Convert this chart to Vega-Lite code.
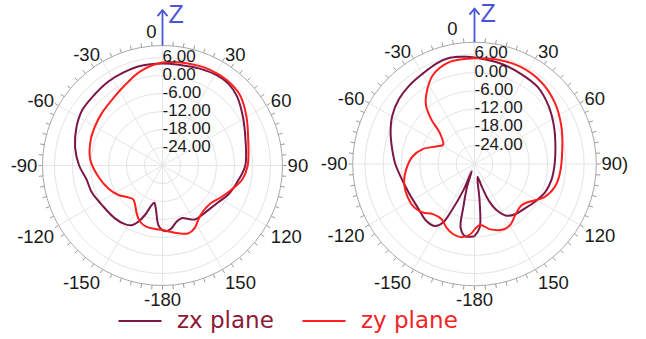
{
  "$schema": "https://vega.github.io/schema/vega-lite/v6.json",
  "width": 646,
  "height": 339,
  "autosize": "none",
  "padding": 0,
  "background": "white",
  "config": {"view": {"stroke": null}},
  "datasets": {
    "curves": [
      {"p":"L","s":"zx plane","a":-180,"g":-8.3},{"p":"L","s":"zx plane","a":-176,"g":-10.1},{"p":"L","s":"zx plane","a":-171.7,"g":-15.0},{"p":"L","s":"zx plane","a":-167.6,"g":-17.3},{"p":"L","s":"zx plane","a":-164.7,"g":-16.3},{"p":"L","s":"zx plane","a":-160.5,"g":-12.5},{"p":"L","s":"zx plane","a":-156.7,"g":-9.6},{"p":"L","s":"zx plane","a":-152.7,"g":-7.6},{"p":"L","s":"zx plane","a":-147.3,"g":-6.8},{"p":"L","s":"zx plane","a":-138,"g":-6.3},{"p":"L","s":"zx plane","a":-123,"g":-5.9},{"p":"L","s":"zx plane","a":-111,"g":-4.8},{"p":"L","s":"zx plane","a":-100,"g":-4.2},{"p":"L","s":"zx plane","a":-90,"g":-2.2},{"p":"L","s":"zx plane","a":-78,"g":-0.2},{"p":"L","s":"zx plane","a":-66,"g":1.4},{"p":"L","s":"zx plane","a":-55.5,"g":2.5},{"p":"L","s":"zx plane","a":-45,"g":2.7},{"p":"L","s":"zx plane","a":-33,"g":3.3},{"p":"L","s":"zx plane","a":-23,"g":3.6},{"p":"L","s":"zx plane","a":-12.7,"g":4.0},{"p":"L","s":"zx plane","a":0,"g":4.0},{"p":"L","s":"zx plane","a":10,"g":4.0},{"p":"L","s":"zx plane","a":21,"g":4.6},{"p":"L","s":"zx plane","a":31,"g":5.1},{"p":"L","s":"zx plane","a":39,"g":5.0},{"p":"L","s":"zx plane","a":47,"g":3.9},{"p":"L","s":"zx plane","a":58,"g":1.5},{"p":"L","s":"zx plane","a":72.5,"g":-1.0},{"p":"L","s":"zx plane","a":90,"g":-2.4},{"p":"L","s":"zx plane","a":102,"g":-4.4},{"p":"L","s":"zx plane","a":113.5,"g":-6.0},{"p":"L","s":"zx plane","a":123.7,"g":-7.8},{"p":"L","s":"zx plane","a":134,"g":-8.7},{"p":"L","s":"zx plane","a":144,"g":-8.9},{"p":"L","s":"zx plane","a":149,"g":-9.0},{"p":"L","s":"zx plane","a":153,"g":-9.9},{"p":"L","s":"zx plane","a":160,"g":-11.3},{"p":"L","s":"zx plane","a":166,"g":-10.7},{"p":"L","s":"zx plane","a":172,"g":-8.8},{"p":"L","s":"zx plane","a":176,"g":-8.1},{"p":"L","s":"zx plane","a":180,"g":-8.3},

      {"p":"L","s":"zy plane","a":-180,"g":-8.6},{"p":"L","s":"zy plane","a":-173.3,"g":-8.7},{"p":"L","s":"zy plane","a":-165.5,"g":-8.9},{"p":"L","s":"zy plane","a":-158.2,"g":-9.8},{"p":"L","s":"zy plane","a":-151.6,"g":-11.9},{"p":"L","s":"zy plane","a":-145.2,"g":-14.0},{"p":"L","s":"zy plane","a":-139.2,"g":-15.1},{"p":"L","s":"zy plane","a":-133,"g":-14.4},{"p":"L","s":"zy plane","a":-123.7,"g":-12.3},{"p":"L","s":"zy plane","a":-112.9,"g":-10.4},{"p":"L","s":"zy plane","a":-99.9,"g":-8.3},{"p":"L","s":"zy plane","a":-85,"g":-5.8},{"p":"L","s":"zy plane","a":-70.5,"g":-4.6},{"p":"L","s":"zy plane","a":-60,"g":-4.0},{"p":"L","s":"zy plane","a":-49.4,"g":-3.3},{"p":"L","s":"zy plane","a":-37.8,"g":-2.4},{"p":"L","s":"zy plane","a":-26.4,"g":-0.7},{"p":"L","s":"zy plane","a":-13.5,"g":2.2},{"p":"L","s":"zy plane","a":0,"g":4.3},{"p":"L","s":"zy plane","a":13.3,"g":5.0},{"p":"L","s":"zy plane","a":26.4,"g":5.6},{"p":"L","s":"zy plane","a":36.9,"g":5.6},{"p":"L","s":"zy plane","a":47.7,"g":4.9},{"p":"L","s":"zy plane","a":59.7,"g":2.4},{"p":"L","s":"zy plane","a":73.5,"g":-0.2},{"p":"L","s":"zy plane","a":90,"g":-1.6},{"p":"L","s":"zy plane","a":100,"g":-3.0},{"p":"L","s":"zy plane","a":107,"g":-5.0},{"p":"L","s":"zy plane","a":118.5,"g":-7.8},{"p":"L","s":"zy plane","a":128.5,"g":-9.6},{"p":"L","s":"zy plane","a":140.7,"g":-9.4},{"p":"L","s":"zy plane","a":146.7,"g":-8.3},{"p":"L","s":"zy plane","a":152.6,"g":-6.6},{"p":"L","s":"zy plane","a":159.2,"g":-5.8},{"p":"L","s":"zy plane","a":165.5,"g":-6.6},{"p":"L","s":"zy plane","a":173.5,"g":-7.8},{"p":"L","s":"zy plane","a":180,"g":-8.6},

      {"p":"R","s":"zx plane","a":-180,"g":-6.3},{"p":"R","s":"zx plane","a":-172.5,"g":-6.1},{"p":"R","s":"zx plane","a":-167.7,"g":-8.6},{"p":"R","s":"zx plane","a":-165.5,"g":-15.3},{"p":"R","s":"zx plane","a":-162,"g":-22},{"p":"R","s":"zx plane","a":-159,"g":-27.5},{"p":"R","s":"zx plane","a":-157,"g":-20.6},{"p":"R","s":"zx plane","a":-153.8,"g":-12.9},{"p":"R","s":"zx plane","a":-151.7,"g":-8.2},{"p":"R","s":"zx plane","a":-147.2,"g":-5.8},{"p":"R","s":"zx plane","a":-139.6,"g":-5.5},{"p":"R","s":"zx plane","a":-127.3,"g":-6.5},{"p":"R","s":"zx plane","a":-116,"g":-6.5},{"p":"R","s":"zx plane","a":-108.5,"g":-6.2},{"p":"R","s":"zx plane","a":-102.7,"g":-5.7},{"p":"R","s":"zx plane","a":-90,"g":-4.0},{"p":"R","s":"zx plane","a":-80.2,"g":-2.6},{"p":"R","s":"zx plane","a":-69.6,"g":-0.6},{"p":"R","s":"zx plane","a":-59.7,"g":1.3},{"p":"R","s":"zx plane","a":-49.3,"g":2.7},{"p":"R","s":"zx plane","a":-39.8,"g":3.5},{"p":"R","s":"zx plane","a":-29.8,"g":4.2},{"p":"R","s":"zx plane","a":-20.8,"g":5.3},{"p":"R","s":"zx plane","a":-13.1,"g":5.8},{"p":"R","s":"zx plane","a":-4.1,"g":5.3},{"p":"R","s":"zx plane","a":3.1,"g":4.7},{"p":"R","s":"zx plane","a":14.5,"g":4.1},{"p":"R","s":"zx plane","a":27.2,"g":3.3},{"p":"R","s":"zx plane","a":39.5,"g":2.7},{"p":"R","s":"zx plane","a":51.9,"g":0.9},{"p":"R","s":"zx plane","a":64.5,"g":-1.1},{"p":"R","s":"zx plane","a":77.7,"g":-2.8},{"p":"R","s":"zx plane","a":90.5,"g":-3.7},{"p":"R","s":"zx plane","a":101.9,"g":-4.2},{"p":"R","s":"zx plane","a":111.7,"g":-5.0},{"p":"R","s":"zx plane","a":122.6,"g":-6.7},{"p":"R","s":"zx plane","a":132.5,"g":-8.1},{"p":"R","s":"zx plane","a":140.5,"g":-8.7},{"p":"R","s":"zx plane","a":148.2,"g":-10},{"p":"R","s":"zx plane","a":154.1,"g":-13},{"p":"R","s":"zx plane","a":158.7,"g":-17.1},{"p":"R","s":"zx plane","a":162.1,"g":-22.1},{"p":"R","s":"zx plane","a":166.7,"g":-25.7},{"p":"R","s":"zx plane","a":172.1,"g":-17.9},{"p":"R","s":"zx plane","a":175.4,"g":-9},{"p":"R","s":"zx plane","a":180,"g":-6.3},

      {"p":"R","s":"zy plane","a":-180,"g":-8.5},{"p":"R","s":"zy plane","a":-176.4,"g":-6.8},{"p":"R","s":"zy plane","a":-170,"g":-5.6},{"p":"R","s":"zy plane","a":-163.2,"g":-5.9},{"p":"R","s":"zy plane","a":-156.2,"g":-7.2},{"p":"R","s":"zy plane","a":-149,"g":-8.9},{"p":"R","s":"zy plane","a":-140.3,"g":-8.6},{"p":"R","s":"zy plane","a":-133.1,"g":-6.7},{"p":"R","s":"zy plane","a":-125.7,"g":-5.6},{"p":"R","s":"zy plane","a":-116.3,"g":-5.5},{"p":"R","s":"zy plane","a":-105.6,"g":-6.0},{"p":"R","s":"zy plane","a":-95.1,"g":-7.4},{"p":"R","s":"zy plane","a":-83.1,"g":-9.5},{"p":"R","s":"zy plane","a":-73.9,"g":-12.3},{"p":"R","s":"zy plane","a":-65.3,"g":-16.2},{"p":"R","s":"zy plane","a":-58.5,"g":-17.9},{"p":"R","s":"zy plane","a":-48.2,"g":-14.7},{"p":"R","s":"zy plane","a":-44.1,"g":-9.6},{"p":"R","s":"zy plane","a":-39.7,"g":-5.1},{"p":"R","s":"zy plane","a":-35.3,"g":-2.5},{"p":"R","s":"zy plane","a":-25.2,"g":2.2},{"p":"R","s":"zy plane","a":-13.6,"g":4.5},{"p":"R","s":"zy plane","a":-0.6,"g":4.7},{"p":"R","s":"zy plane","a":12.2,"g":5.1},{"p":"R","s":"zy plane","a":25.5,"g":5.3},{"p":"R","s":"zy plane","a":39.1,"g":4.7},{"p":"R","s":"zy plane","a":52.5,"g":3.2},{"p":"R","s":"zy plane","a":66.5,"g":1.1},{"p":"R","s":"zy plane","a":80.8,"g":-0.8},{"p":"R","s":"zy plane","a":96.3,"g":-1.8},{"p":"R","s":"zy plane","a":106,"g":-2.6},{"p":"R","s":"zy plane","a":115.3,"g":-4.6},{"p":"R","s":"zy plane","a":125.7,"g":-8.5},{"p":"R","s":"zy plane","a":131.9,"g":-9.5},{"p":"R","s":"zy plane","a":140.5,"g":-8.7},{"p":"R","s":"zy plane","a":149,"g":-6.9},{"p":"R","s":"zy plane","a":155.7,"g":-6.5},{"p":"R","s":"zy plane","a":166.3,"g":-7.9},{"p":"R","s":"zy plane","a":174.6,"g":-9.9},{"p":"R","s":"zy plane","a":180,"g":-8.5}
    ],
    "rings": [
      {"p":"L","g":-24},{"p":"L","g":-18},{"p":"L","g":-12},{"p":"L","g":-6},{"p":"L","g":0},{"p":"L","g":6},{"p":"L","g":10},
      {"p":"R","g":-24},{"p":"R","g":-18},{"p":"R","g":-12},{"p":"R","g":-6},{"p":"R","g":0},{"p":"R","g":6},{"p":"R","g":10}
    ],
    "ang": [
      {"a":-175},{"a":-170},{"a":-165},{"a":-160},{"a":-155},{"a":-150},{"a":-145},{"a":-140},{"a":-135},{"a":-130},{"a":-125},{"a":-120},{"a":-115},{"a":-110},{"a":-105},{"a":-100},{"a":-95},{"a":-90},{"a":-85},{"a":-80},{"a":-75},{"a":-70},{"a":-65},{"a":-60},{"a":-55},{"a":-50},{"a":-45},{"a":-40},{"a":-35},{"a":-30},{"a":-25},{"a":-20},{"a":-15},{"a":-10},{"a":-5},{"a":0},{"a":5},{"a":10},{"a":15},{"a":20},{"a":25},{"a":30},{"a":35},{"a":40},{"a":45},{"a":50},{"a":55},{"a":60},{"a":65},{"a":70},{"a":75},{"a":80},{"a":85},{"a":90},{"a":95},{"a":100},{"a":105},{"a":110},{"a":115},{"a":120},{"a":125},{"a":130},{"a":135},{"a":140},{"a":145},{"a":150},{"a":155},{"a":160},{"a":165},{"a":170},{"a":175},{"a":180}
    ],
    "alab": [
      {"p":"L","a":0,"t":"0"},{"p":"L","a":30,"t":"30"},{"p":"L","a":60,"t":"60"},{"p":"L","a":90,"t":"90"},{"p":"L","a":120,"t":"120"},{"p":"L","a":150,"t":"150"},{"p":"L","a":180,"t":"-180"},{"p":"L","a":-150,"t":"-150"},{"p":"L","a":-120,"t":"-120"},{"p":"L","a":-90,"t":"-90"},{"p":"L","a":-60,"t":"-60"},{"p":"L","a":-30,"t":"-30"},
      {"p":"R","a":0,"t":"0"},{"p":"R","a":30,"t":"30"},{"p":"R","a":60,"t":"60"},{"p":"R","a":90,"t":"90)"},{"p":"R","a":120,"t":"120"},{"p":"R","a":150,"t":"150"},{"p":"R","a":180,"t":"-180"},{"p":"R","a":-150,"t":"-150"},{"p":"R","a":-120,"t":"-120"},{"p":"R","a":-90,"t":"-90"},{"p":"R","a":-60,"t":"-60"},{"p":"R","a":-30,"t":"-30"}
    ],
    "rlab": [
      {"p":"L","g":6,"t":"6.00"},{"p":"L","g":0,"t":"0.00"},{"p":"L","g":-6,"t":"-6.00"},{"p":"L","g":-12,"t":"-12.00"},{"p":"L","g":-18,"t":"-18.00"},{"p":"L","g":-24,"t":"-24.00"},
      {"p":"R","g":6,"t":"6.00"},{"p":"R","g":0,"t":"0.00"},{"p":"R","g":-6,"t":"-6.00"},{"p":"R","g":-12,"t":"-12.00"},{"p":"R","g":-18,"t":"-18.00"},{"p":"R","g":-24,"t":"-24.00"}
    ],
    "pan": [{"p":"L","t":"Z"},{"p":"R","t":"Z"}]
  },
  "layer": [
    {
      "data": {"name": "rings"},
      "transform": [
        {"calculate": "datum.p == 'R' ? 104 : 0", "as": "cx"},
        {"calculate": "datum.p == 'R' ? 0.5 : 0", "as": "cy"},
        {"calculate": "datum.p == 'R' ? 1.015 : 1", "as": "k"},
        {"calculate": "pow(2 * 3 * datum.k * (datum.g + 30), 2)", "as": "sz"}
      ],
      "mark": {"type": "point", "shape": "circle", "filled": false, "strokeWidth": 1, "opacity": 1},
      "encoding": {
        "x": {"field": "cx", "type": "quantitative", "scale": {"domain": [-54.1667, 161.1667], "nice": false, "zero": false}, "axis": null},
        "y": {"field": "cy", "type": "quantitative", "scale": {"domain": [-57.8333, 55.1667], "nice": false, "zero": false}, "axis": null},
        "size": {"field": "sz", "type": "quantitative", "scale": null},
        "stroke": {"condition": {"test": "datum.g == 10", "value": "#a8a8a8"}, "value": "#e4e4e4"}
      }
    },
    {
      "data": {"name": "ang"},
      "transform": [
        {"filter": "datum.a % 30 == 0"},
        {"calculate": "datum.a * PI / 180", "as": "t"},
        {"calculate": "0 + 40 * sin(datum.t)", "as": "x2"},
        {"calculate": "0 + 40 * cos(datum.t)", "as": "y2"},
        {"calculate": "0", "as": "x"},
        {"calculate": "0", "as": "y"}
      ],
      "mark": {"type": "rule", "color": "#e6e6e6", "strokeWidth": 1},
      "encoding": {
        "x": {"field": "x", "type": "quantitative"},
        "y": {"field": "y", "type": "quantitative"},
        "x2": {"field": "x2"},
        "y2": {"field": "y2"}
      }
    },
    {
      "data": {"name": "ang"},
      "transform": [
        {"filter": "datum.a % 30 == 0"},
        {"calculate": "datum.a * PI / 180", "as": "t"},
        {"calculate": "104 + 1.015 * 40 * sin(datum.t)", "as": "x2"},
        {"calculate": "0.5 + 1.015 * 40 * cos(datum.t)", "as": "y2"},
        {"calculate": "104", "as": "x"},
        {"calculate": "0.5", "as": "y"}
      ],
      "mark": {"type": "rule", "color": "#e6e6e6", "strokeWidth": 1},
      "encoding": {
        "x": {"field": "x", "type": "quantitative"},
        "y": {"field": "y", "type": "quantitative"},
        "x2": {"field": "x2"},
        "y2": {"field": "y2"}
      }
    },
    {
      "data": {"name": "ang"},
      "transform": [
        {"calculate": "datum.a * PI / 180", "as": "t"},
        {"calculate": "40 * sin(datum.t)", "as": "x"},
        {"calculate": "40 * cos(datum.t)", "as": "y"},
        {"calculate": "41.4 * sin(datum.t)", "as": "x2"},
        {"calculate": "41.4 * cos(datum.t)", "as": "y2"}
      ],
      "mark": {"type": "rule", "color": "#9c9c9c", "strokeWidth": 1},
      "encoding": {
        "x": {"field": "x", "type": "quantitative"},
        "y": {"field": "y", "type": "quantitative"},
        "x2": {"field": "x2"},
        "y2": {"field": "y2"}
      }
    },
    {
      "data": {"name": "ang"},
      "transform": [
        {"calculate": "datum.a * PI / 180", "as": "t"},
        {"calculate": "104 + 1.015 * 40 * sin(datum.t)", "as": "x"},
        {"calculate": "0.5 + 1.015 * 40 * cos(datum.t)", "as": "y"},
        {"calculate": "104 + 1.015 * 41.4 * sin(datum.t)", "as": "x2"},
        {"calculate": "0.5 + 1.015 * 41.4 * cos(datum.t)", "as": "y2"}
      ],
      "mark": {"type": "rule", "color": "#9c9c9c", "strokeWidth": 1},
      "encoding": {
        "x": {"field": "x", "type": "quantitative"},
        "y": {"field": "y", "type": "quantitative"},
        "x2": {"field": "x2"},
        "y2": {"field": "y2"}
      }
    },
    {
      "data": {"name": "curves"},
      "transform": [
        {"calculate": "datum.p == 'R' ? 104 : 0", "as": "cx"},
        {"calculate": "datum.p == 'R' ? 0.5 : 0", "as": "cy"},
        {"calculate": "datum.p == 'R' ? 1.015 : 1", "as": "k"},
        {"calculate": "datum.cx + datum.k * (datum.g + 30) * sin(datum.a * PI / 180)", "as": "x"},
        {"calculate": "datum.cy + datum.k * (datum.g + 30) * cos(datum.a * PI / 180)", "as": "y"}
      ],
      "mark": {"type": "line", "interpolate": "catmull-rom", "strokeWidth": 2},
      "encoding": {
        "x": {"field": "x", "type": "quantitative"},
        "y": {"field": "y", "type": "quantitative"},
        "detail": {"field": "p"},
        "order": {"field": "a", "type": "quantitative"},
        "color": {
          "field": "s",
          "type": "nominal",
          "scale": {"domain": ["zx plane", "zy plane"], "range": ["#7b1747", "#ff1e1e"]},
          "legend": {
            "orient": "none",
            "legendX": 117,
            "legendY": 298,
            "direction": "horizontal",
            "title": null,
            "symbolType": "stroke",
            "symbolSize": 1850,
            "symbolStrokeWidth": 2,
            "labelFontSize": 23,
            "labelFont": "DejaVu Sans",
            "labelOffset": 14,
            "columnPadding": 24,
            "labelLimit": 300,
            "encode": {
              "labels": {"update": {"fill": {"signal": "datum.label == 'zx plane' ? '#8c1a38' : '#f22525'"}}},
              "symbols": {"update": {"stroke": {"signal": "datum.label == 'zx plane' ? '#8c1a38' : '#f22525'"}}}
            }
          }
        }
      }
    },
    {
      "data": {"name": "rlab"},
      "transform": [
        {"calculate": "datum.p == 'R' ? 104 : 0", "as": "cx"},
        {"calculate": "datum.p == 'R' ? 0.5 : 0", "as": "cy"},
        {"calculate": "datum.p == 'R' ? 1.015 : 1", "as": "k"},
        {"calculate": "datum.cy + datum.k * (datum.g + 30)", "as": "y"}
      ],
      "mark": {"type": "text", "align": "left", "baseline": "middle", "dx": 0, "dy": -1, "fontSize": 17, "font": "Liberation Sans", "color": "#1a1a1a"},
      "encoding": {
        "x": {"field": "cx", "type": "quantitative"},
        "y": {"field": "y", "type": "quantitative"},
        "text": {"field": "t"}
      }
    },
    {
      "data": {"name": "alab"},
      "transform": [
        {"calculate": "datum.p == 'R' ? 104 : 0", "as": "cx"},
        {"calculate": "datum.p == 'R' ? 0.5 : 0", "as": "cy"},
        {"calculate": "datum.p == 'R' ? 1.015 : 1", "as": "k"},
        {"calculate": "datum.cx + datum.k * 41.7 * sin(datum.a * PI / 180)", "as": "x"},
        {"calculate": "datum.cy + datum.k * 41.7 * cos(datum.a * PI / 180)", "as": "y"}
      ],
      "mark": {
        "type": "text",
        "fontSize": 18.5,
        "font": "Liberation Sans",
        "color": "#1a1a1a",
        "align": {"expr": "(datum.a == 0 || abs(datum.a) == 180) ? 'center' : (datum.a > 0 ? 'left' : 'right')"},
        "baseline": {"expr": "datum.a == 0 ? 'bottom' : (abs(datum.a) >= 120 ? 'top' : 'middle')"},
        "dx": {"expr": "datum.a == 0 ? (datum.p == 'R' ? -22 : -11) : 0"},
        "dy": {"expr": "datum.a == 0 ? 2 : (abs(datum.a) == 30 || abs(datum.a) == 60 ? -2 : 0)"}
      },
      "encoding": {
        "x": {"field": "x", "type": "quantitative"},
        "y": {"field": "y", "type": "quantitative"},
        "text": {"field": "t"}
      }
    },
    {
      "data": {"name": "pan"},
      "transform": [
        {"calculate": "datum.p == 'R' ? 104 : 0", "as": "cx"},
        {"calculate": "datum.p == 'R' ? 0.5 : 0", "as": "cy"},
        {"calculate": "datum.p == 'R' ? 1.015 : 1", "as": "k"},
        {"calculate": "datum.cy + 40 * datum.k", "as": "y"},
        {"calculate": "datum.cy + 51.8", "as": "y2"}
      ],
      "mark": {"type": "rule", "color": "#4657d6", "strokeWidth": 1.8},
      "encoding": {
        "x": {"field": "cx", "type": "quantitative"},
        "y": {"field": "y", "type": "quantitative"},
        "y2": {"field": "y2"}
      }
    },
    {
      "data": {"name": "pan"},
      "transform": [
        {"calculate": "datum.p == 'R' ? 104 : 0", "as": "cx"},
        {"calculate": "datum.p == 'R' ? 0.5 : 0", "as": "cy"},
        {"calculate": "datum.cy + 51.8", "as": "y"}
      ],
      "mark": {"type": "point", "shape": "M-1,1.2L0,0L1,1.2", "size": 100, "filled": false, "color": "#4657d6", "strokeWidth": 1.8, "opacity": 1},
      "encoding": {
        "x": {"field": "cx", "type": "quantitative"},
        "y": {"field": "y", "type": "quantitative"}
      }
    },
    {
      "data": {"name": "pan"},
      "transform": [
        {"calculate": "datum.p == 'R' ? 104 : 0", "as": "cx"},
        {"calculate": "datum.p == 'R' ? 0.5 : 0", "as": "cy"},
        {"calculate": "datum.cy + 47.5", "as": "y"}
      ],
      "mark": {"type": "text", "align": "left", "baseline": "alphabetic", "dx": 6, "fontSize": 25, "font": "Liberation Sans", "color": "#4b55d4"},
      "encoding": {
        "x": {"field": "cx", "type": "quantitative"},
        "y": {"field": "y", "type": "quantitative"},
        "text": {"field": "t"}
      }
    }
  ]
}
